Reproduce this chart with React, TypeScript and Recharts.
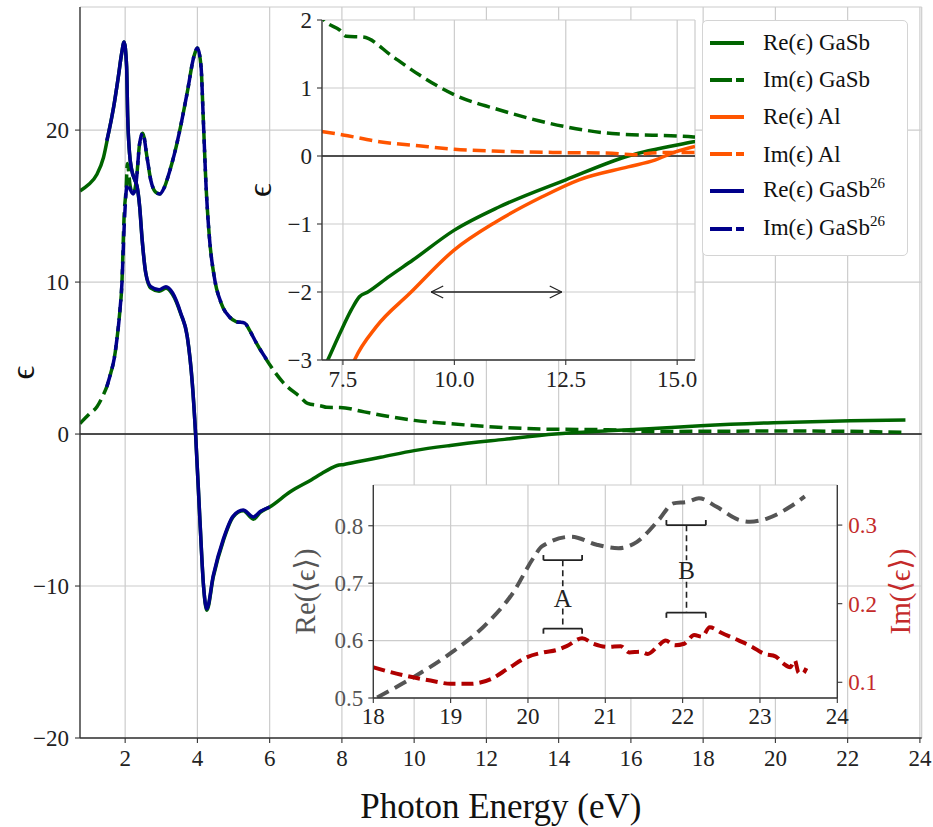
import React from 'react';
import { LineChart, Line, XAxis, YAxis, CartesianGrid, ReferenceLine, ReferenceDot, Legend, Label } from 'recharts';

const FONT = '"Liberation Serif", "DejaVu Serif", serif';
const GREEN = '#006400';
const BLUE = '#00008b';
const ORANGE = '#ff5500';
const GRAY = '#555555';
const RED = '#b00000';
const RED_TEXT = '#c42a2a';
const GRID = '#cccccc';
const SPINE = '#333333';

// ---------- main plot data: [photon energy (eV), epsilon] ----------
const reGaSb: [number, number][] = [
  [0.75, 16.0], [0.98, 16.4], [1.22, 17.1], [1.4, 18.2], [1.54, 19.8], [1.68, 21.5], [1.81, 23.5], [1.9, 25.0],
  [1.97, 25.8], [2.04, 24.2], [2.07, 20.9], [2.12, 18.5], [2.18, 17.4], [2.27, 16.7], [2.33, 16.3], [2.4, 15.0],
  [2.47, 12.8], [2.57, 10.6], [2.71, 9.6], [2.94, 9.4], [3.13, 9.6], [3.31, 9.2], [3.54, 7.9], [3.72, 6.4],
  [3.86, 3.3], [3.95, 0.0], [4.07, -5.7], [4.17, -10.0], [4.26, -11.6], [4.44, -9.4], [4.72, -7.0], [4.99, -5.45],
  [5.27, -5.05], [5.55, -5.6], [5.74, -5.15], [6.0, -4.8], [6.57, -3.8], [7.16, -3.0], [7.43, -2.61], [7.69, -2.26],
  [7.87, -2.07], [8.06, -2.0], [8.54, -1.77], [9.07, -1.53], [10.0, -1.09], [11.0, -0.75], [12.5, -0.35], [13.9, 0.0],
  [15.37, 0.21], [16.5, 0.35], [17.93, 0.55], [19.95, 0.75], [22.08, 0.88], [23.6, 0.92],
];
const imGaSb: [number, number][] = [
  [0.75, 0.7], [1.0, 1.3], [1.22, 1.8], [1.4, 2.6], [1.49, 3.1], [1.6, 4.0], [1.7, 5.0], [1.77, 6.2], [1.85, 8.0],
  [1.91, 9.9], [1.97, 14.3], [2.03, 16.3], [2.06, 17.8], [2.14, 16.3], [2.22, 15.8], [2.31, 16.7], [2.4, 19.1],
  [2.49, 19.8], [2.6, 18.3], [2.71, 16.7], [2.85, 15.9], [2.96, 15.8], [3.08, 16.2], [3.22, 17.2], [3.36, 18.4],
  [3.54, 20.3], [3.72, 22.5], [3.91, 24.9], [4.0, 25.4], [4.1, 24.2], [4.16, 20.9], [4.24, 16.3], [4.33, 13.0],
  [4.47, 10.3], [4.66, 8.6], [4.89, 7.7], [5.07, 7.4], [5.31, 7.3], [5.45, 6.8], [5.63, 6.0], [5.91, 4.9],
  [6.37, 3.4], [6.84, 2.45], [7.05, 2.02], [7.43, 1.85], [7.58, 1.76], [7.95, 1.75], [8.62, 1.46], [9.22, 1.19],
  [10.0, 0.9], [11.0, 0.68], [12.5, 0.43], [13.54, 0.33], [15.37, 0.28], [16.54, 0.17], [18.0, 0.18], [19.95, 0.2],
  [22.0, 0.18], [23.5, 0.11],
];
const reGaSb26: [number, number][] = [
  [1.49, 19.3], [1.54, 19.8], [1.68, 21.5], [1.81, 23.5], [1.9, 25.0], [1.97, 25.8], [2.04, 24.2], [2.07, 20.9],
  [2.12, 18.5], [2.18, 17.4], [2.27, 16.7], [2.33, 16.3], [2.4, 15.0], [2.47, 12.8], [2.57, 10.6], [2.71, 9.7],
  [2.94, 9.5], [3.13, 9.7], [3.31, 9.3], [3.54, 7.95], [3.72, 6.4], [3.86, 3.3], [3.95, 0.0], [4.07, -5.7],
  [4.17, -10.0], [4.26, -11.5], [4.44, -9.3], [4.72, -6.9], [4.99, -5.4], [5.27, -5.0], [5.55, -5.45], [5.74, -5.1],
  [6.0, -4.8],
];
const imGaSb26: [number, number][] = [
  [1.49, 3.1], [1.6, 4.0], [1.7, 5.0], [1.77, 6.2], [1.85, 8.0], [1.91, 9.9], [1.97, 13.5], [2.03, 16.0],
  [2.07, 16.5], [2.14, 16.1], [2.22, 15.8], [2.31, 16.7], [2.4, 19.1], [2.49, 19.8], [2.6, 18.3], [2.71, 16.7],
  [2.85, 15.9], [2.96, 15.8], [3.08, 16.2], [3.22, 17.2], [3.36, 18.4], [3.54, 20.3], [3.72, 22.5], [3.91, 24.9],
  [4.0, 25.4], [4.1, 24.2], [4.16, 20.9], [4.24, 16.3], [4.33, 13.0], [4.47, 10.3], [4.66, 8.6], [4.89, 7.7],
  [5.07, 7.4], [5.31, 7.3], [5.45, 6.8], [5.63, 6.0], [5.97, 4.7],
];
// ---------- inset 1: aluminium ----------
const reAl: [number, number][] = [
  [7.55, -3.35], [7.76, -3.0], [8.25, -2.51], [9.0, -2.02], [10.0, -1.38], [10.93, -0.97], [11.97, -0.6],
  [12.8, -0.35], [13.9, -0.16], [14.5, -0.06], [14.96, 0.06], [15.4, 0.14],
];
const imAl: [number, number][] = [
  [7.03, 0.36], [7.5, 0.31], [8.32, 0.21], [9.2, 0.15], [10.0, 0.1], [11.0, 0.07], [12.5, 0.05], [13.54, 0.04],
  [14.0, 0.02], [14.6, 0.05], [15.4, 0.05],
];
// ---------- inset 2: averaged permittivity ----------
const reAvg: [number, number][] = [
  [18.05, 0.501], [18.53, 0.537], [19.0, 0.578], [19.47, 0.63], [19.8, 0.682], [20.08, 0.746], [20.18, 0.764],
  [20.56, 0.781], [20.89, 0.767], [21.17, 0.761], [21.41, 0.772], [21.69, 0.81], [21.88, 0.839], [22.07, 0.842],
  [22.21, 0.848], [22.44, 0.833], [22.73, 0.81], [22.87, 0.807], [23.1, 0.813], [23.39, 0.833], [23.58, 0.851],
];
const imAvg: [number, number][] = [
  [18.0, 0.119], [18.3, 0.111], [18.53, 0.106], [18.8, 0.101], [19.0, 0.098], [19.24, 0.098], [19.52, 0.104],
  [19.75, 0.118], [19.99, 0.132], [20.2, 0.138], [20.37, 0.141], [20.5, 0.146], [20.7, 0.156], [20.85, 0.149],
  [21.03, 0.145], [21.2, 0.146], [21.31, 0.138], [21.45, 0.139], [21.55, 0.136], [21.68, 0.146], [21.78, 0.153],
  [21.9, 0.147], [22.02, 0.149], [22.15, 0.16], [22.25, 0.158], [22.35, 0.17], [22.5, 0.163], [22.73, 0.153],
  [22.9, 0.145], [23.06, 0.136], [23.2, 0.133], [23.3, 0.124], [23.39, 0.119], [23.45, 0.128], [23.5, 0.112],
  [23.55, 0.111], [23.6, 0.118],
];
// annotation brackets in inset 2
const bracketA = { e: 20.45, top: 0.74, bottom: 0.621, left: 20.2, right: 20.7, text: 0.674, gapTop: 0.694, gapBottom: 0.656, label: 'A' };
const bracketB = { e: 22.05, top: 0.801, bottom: 0.6486, left: 21.79, right: 22.3, text: 0.722, gapTop: 0.74, gapBottom: 0.7025, label: 'B' };
// double arrow in inset 1
const arrowSpan = { from: 9.48, to: 12.41, level: -2 };

// ---------- ticks ----------
const mainXTicks = [2, 4, 6, 8, 10, 12, 14, 16, 18, 20, 22, 24];
const mainYTicks = [-20, -10, 0, 10, 20];
const in1XTicks = [7.5, 10, 12.5, 15];
const in1YTicks = [-3, -2, -1, 0, 1, 2];
const in2XTicks = [18, 19, 20, 21, 22, 23, 24];
const in2YTicks = [0.5, 0.6, 0.7, 0.8];
const in2RTicks = [0.1, 0.2, 0.3];

const legendItems = [
  { label: 'Re(ϵ) GaSb', sup: '', color: GREEN, dashed: false },
  { label: 'Im(ϵ) GaSb', sup: '', color: GREEN, dashed: true },
  { label: 'Re(ϵ) Al', sup: '', color: ORANGE, dashed: false },
  { label: 'Im(ϵ) Al', sup: '', color: ORANGE, dashed: true },
  { label: 'Re(ϵ) GaSb', sup: '26', color: BLUE, dashed: false },
  { label: 'Im(ϵ) GaSb', sup: '26', color: BLUE, dashed: true },
];

const toPts = (arr: [number, number][]) => arr.map(([x, y]) => ({ x, y }));
const minus = (v: number, digits = 0) => {
  const s = Math.abs(v).toFixed(digits);
  return v < 0 ? `\u2212${s}` : s;
};

const axisLine = { stroke: SPINE, strokeWidth: 1.3 };
const tickLine = { stroke: SPINE, strokeWidth: 1.1 };

// custom tick renderer (explicit serif font)
const makeTick = (side: 'bottom' | 'left' | 'right', fmt: (v: number) => string, color = '#222', size = 23) => (props: any) => {
  const { x, y, payload } = props;
  const anchor = side === 'bottom' ? 'middle' : side === 'left' ? 'end' : 'start';
  const dy = side === 'bottom' ? '0.71em' : '0.34em';
  return (
    <text x={x} y={y} dy={dy} textAnchor={anchor} style={{ fontFamily: FONT, fontSize: size, fill: color }}>
      {fmt(payload.value)}
    </text>
  );
};

const yLabel = (text: string, dx: number, color: string, size: number) => (props: any) => {
  const vb = props.viewBox || { x: 0, y: 0, width: 0, height: 0 };
  const cx = vb.x + dx;
  const cy = vb.y + vb.height / 2;
  return (
    <text transform={`translate(${cx},${cy}) rotate(-90)`} textAnchor="middle" dominantBaseline="central"
      style={{ fontFamily: FONT, fontSize: size, fill: color }}>{text}</text>
  );
};
const xLabel = (text: string, dy: number) => (props: any) => {
  const vb = props.viewBox || { x: 0, y: 0, width: 0, height: 0 };
  return (
    <text x={vb.x + vb.width / 2} y={vb.y + dy} textAnchor="middle"
      style={{ fontFamily: FONT, fontSize: 35, fill: '#111' }}>{text}</text>
  );
};

const LegendBox = () => (
  <div style={{ width: 206, height: 236, boxSizing: 'border-box', background: '#fff', border: '1px solid #d4d4d4', borderRadius: 5, paddingTop: 3, fontFamily: FONT }}>
    {legendItems.map((it, i) => (
      <div key={i} style={{ display: 'flex', alignItems: 'center', height: 37.2 }}>
        <svg width={34} height={10} style={{ marginLeft: 7, marginRight: 19, flex: 'none' }}>
          <line x1={0} x2={34} y1={5} y2={5} stroke={it.color} strokeWidth={4} strokeDasharray={it.dashed ? '22 4' : undefined} />
        </svg>
        <span style={{ fontSize: 23, color: '#111', whiteSpace: 'nowrap', lineHeight: '23px' }}>
          {it.label}
          {it.sup ? <span style={{ fontSize: 15, position: 'relative', top: -9 }}>{it.sup}</span> : null}
        </span>
      </div>
    ))}
  </div>
);

export default function App() {
  const lw = 3.5;
  const brackets = [bracketA, bracketB];
  const capTick = 0.009;
  const intFmt = (v: number) => minus(v);
  const oneFmt = (v: number) => minus(v, 1);
  return (
    <div style={{ position: 'absolute', left: 0, top: 0, width: 933, height: 827, background: '#fff', fontFamily: FONT }}>
      {/* ---------------- main chart ---------------- */}
      <div style={{ position: 'absolute', left: 0, top: 0 }}>
        <LineChart width={933} height={827} margin={{ top: 7, right: 11.3, bottom: 0, left: 0 }}>
          <CartesianGrid stroke={GRID} strokeWidth={1.2} />
          <XAxis type="number" dataKey="x" domain={[0.75, 24.05]} ticks={mainXTicks} allowDataOverflow height={89}
            tickSize={5} tickMargin={7} tick={makeTick('bottom', intFmt)} axisLine={axisLine} tickLine={tickLine}>
            <Label content={xLabel('Photon Energy (eV)', 80)} />
          </XAxis>
          <XAxis xAxisId="top" orientation="top" type="number" domain={[0.75, 24.05]} allowDataOverflow height={0}
            tick={false} tickLine={false} axisLine={axisLine} />
          <YAxis type="number" domain={[-20, 28.1]} ticks={mainYTicks} allowDataOverflow width={80}
            tickSize={5} tickMargin={6} tick={makeTick('left', intFmt)} axisLine={axisLine} tickLine={tickLine}>
            <Label content={yLabel('ϵ', 22, '#111', 34)} />
          </YAxis>
          <YAxis yAxisId="r" orientation="right" type="number" domain={[-20, 28.1]} allowDataOverflow width={0}
            tick={false} tickLine={false} axisLine={axisLine} />
          <ReferenceLine y={0} stroke="#1a1a1a" strokeWidth={1.6} />
          <Line data={toPts(reGaSb)} dataKey="y" type="monotone" stroke={GREEN} strokeWidth={lw} dot={false} isAnimationActive={false} />
          <Line data={toPts(imGaSb)} dataKey="y" type="monotone" stroke={GREEN} strokeWidth={lw} strokeDasharray="13 6" dot={false} isAnimationActive={false} />
          <Line data={toPts(reGaSb26)} dataKey="y" type="monotone" stroke={BLUE} strokeWidth={lw} dot={false} isAnimationActive={false} />
          <Line data={toPts(imGaSb26)} dataKey="y" type="monotone" stroke={BLUE} strokeWidth={lw} strokeDasharray="13 6" dot={false} isAnimationActive={false} />
          <Legend layout="horizontal" verticalAlign="middle" align="center" content={LegendBox}
            wrapperStyle={{ left: 702, top: 20, width: 206, height: 236 }} />
        </LineChart>
      </div>

      {/* ---------------- inset 1 ---------------- */}
      <div style={{ position: 'absolute', left: 240, top: 0 }}>
        <LineChart width={460} height={400} margin={{ top: 20, right: 5, bottom: 0, left: 0 }}>
          <CartesianGrid stroke={GRID} strokeWidth={1.2} fill="#ffffff" fillOpacity={1} />
          <XAxis type="number" dataKey="x" domain={[7.03, 15.4]} ticks={in1XTicks} allowDataOverflow height={40}
            tickSize={5} tickMargin={6} tick={makeTick('bottom', oneFmt)} axisLine={axisLine} tickLine={tickLine} />
          <XAxis xAxisId="top" orientation="top" type="number" domain={[7.03, 15.4]} allowDataOverflow height={0}
            tick={false} tickLine={false} axisLine={axisLine} />
          <YAxis type="number" domain={[-3, 2]} ticks={in1YTicks} allowDataOverflow width={82}
            tickSize={5} tickMargin={5} tick={makeTick('left', intFmt)} axisLine={axisLine} tickLine={tickLine}>
            <Label content={yLabel('ϵ', 19, '#111', 34)} />
          </YAxis>
          <YAxis yAxisId="r" orientation="right" type="number" domain={[-3, 2]} allowDataOverflow width={0}
            tick={false} tickLine={false} axisLine={axisLine} />
          <ReferenceLine y={0} stroke="#1a1a1a" strokeWidth={1.6} />
          <Line data={toPts(reGaSb)} dataKey="y" type="monotone" stroke={GREEN} strokeWidth={lw} dot={false} isAnimationActive={false} />
          <Line data={toPts(imGaSb)} dataKey="y" type="monotone" stroke={GREEN} strokeWidth={lw} strokeDasharray="13 6" dot={false} isAnimationActive={false} />
          <Line data={toPts(reAl)} dataKey="y" type="monotone" stroke={ORANGE} strokeWidth={lw} dot={false} isAnimationActive={false} />
          <Line data={toPts(imAl)} dataKey="y" type="monotone" stroke={ORANGE} strokeWidth={lw} strokeDasharray="13 6" dot={false} isAnimationActive={false} />
          <ReferenceLine segment={[{ x: arrowSpan.from, y: arrowSpan.level }, { x: arrowSpan.to, y: arrowSpan.level }]} stroke="#222" strokeWidth={1.3} />
          <ReferenceLine segment={[{ x: arrowSpan.from, y: arrowSpan.level }, { x: arrowSpan.from + 0.27, y: arrowSpan.level + 0.088 }]} stroke="#222" strokeWidth={1.3} />
          <ReferenceLine segment={[{ x: arrowSpan.from, y: arrowSpan.level }, { x: arrowSpan.from + 0.27, y: arrowSpan.level - 0.088 }]} stroke="#222" strokeWidth={1.3} />
          <ReferenceLine segment={[{ x: arrowSpan.to, y: arrowSpan.level }, { x: arrowSpan.to - 0.27, y: arrowSpan.level + 0.088 }]} stroke="#222" strokeWidth={1.3} />
          <ReferenceLine segment={[{ x: arrowSpan.to, y: arrowSpan.level }, { x: arrowSpan.to - 0.27, y: arrowSpan.level - 0.088 }]} stroke="#222" strokeWidth={1.3} />
        </LineChart>
      </div>

      {/* ---------------- inset 2 ---------------- */}
      <div style={{ position: 'absolute', left: 280, top: 470 }}>
        <LineChart width={650} height={270} margin={{ top: 15, right: 0, bottom: 0, left: 0 }}>
          <CartesianGrid stroke={GRID} strokeWidth={1.2} fill="#ffffff" fillOpacity={1} />
          <XAxis type="number" dataKey="x" domain={[18, 24]} ticks={in2XTicks} allowDataOverflow height={42}
            tickSize={5} tickMargin={5} tick={makeTick('bottom', intFmt)} axisLine={axisLine} tickLine={tickLine} />
          <XAxis xAxisId="top" orientation="top" type="number" domain={[18, 24]} allowDataOverflow height={0}
            tick={false} tickLine={false} axisLine={axisLine} />
          <YAxis type="number" domain={[0.5, 0.871]} ticks={in2YTicks} allowDataOverflow width={93.3}
            tickSize={5} tickMargin={5} tick={makeTick('left', oneFmt, '#555')} axisLine={axisLine} tickLine={tickLine}>
            <Label content={yLabel('Re(⟨ϵ⟩)', 25, '#555', 29)} />
          </YAxis>
          <YAxis yAxisId="right" orientation="right" type="number" domain={[0.08, 0.351]} ticks={in2RTicks} allowDataOverflow width={92.7}
            tickSize={5} tickMargin={6} tick={makeTick('right', oneFmt, RED_TEXT)} axisLine={axisLine} tickLine={tickLine}>
            <Label content={yLabel('Im(⟨ϵ⟩)', 63, RED_TEXT, 29)} />
          </YAxis>
          <Line data={toPts(reAvg)} dataKey="y" type="monotone" stroke={GRAY} strokeWidth={4} strokeDasharray="13 7" dot={false} isAnimationActive={false} />
          <Line yAxisId="right" data={toPts(imAvg)} dataKey="y" type="monotone" stroke={RED} strokeWidth={4} strokeDasharray="12 6" dot={false} isAnimationActive={false} />
          {brackets.flatMap((b) => [
            <ReferenceLine key={b.label + 'v1'} segment={[{ x: b.e, y: b.top }, { x: b.e, y: b.gapTop }]} stroke="#222" strokeWidth={1.6} strokeDasharray="6 4" />,
            <ReferenceLine key={b.label + 'v2'} segment={[{ x: b.e, y: b.gapBottom }, { x: b.e, y: b.bottom }]} stroke="#222" strokeWidth={1.6} strokeDasharray="6 4" />,
            <ReferenceLine key={b.label + 'h1'} segment={[{ x: b.left, y: b.top }, { x: b.right, y: b.top }]} stroke="#222" strokeWidth={1.8} />,
            <ReferenceLine key={b.label + 'h2'} segment={[{ x: b.left, y: b.bottom }, { x: b.right, y: b.bottom }]} stroke="#222" strokeWidth={1.8} />,
            <ReferenceLine key={b.label + 't1'} segment={[{ x: b.left, y: b.top }, { x: b.left, y: b.top + capTick }]} stroke="#222" strokeWidth={1.8} />,
            <ReferenceLine key={b.label + 't2'} segment={[{ x: b.right, y: b.top }, { x: b.right, y: b.top + capTick }]} stroke="#222" strokeWidth={1.8} />,
            <ReferenceLine key={b.label + 't3'} segment={[{ x: b.left, y: b.bottom }, { x: b.left, y: b.bottom - capTick }]} stroke="#222" strokeWidth={1.8} />,
            <ReferenceLine key={b.label + 't4'} segment={[{ x: b.right, y: b.bottom }, { x: b.right, y: b.bottom - capTick }]} stroke="#222" strokeWidth={1.8} />,
            <ReferenceDot key={b.label + 'txt'} x={b.e} y={b.text} r={0} fill="none" stroke="none"
              label={{ value: b.label, position: 'center', fontSize: 25, fill: '#222', fontFamily: FONT }} />,
          ])}
        </LineChart>
      </div>
    </div>
  );
}
